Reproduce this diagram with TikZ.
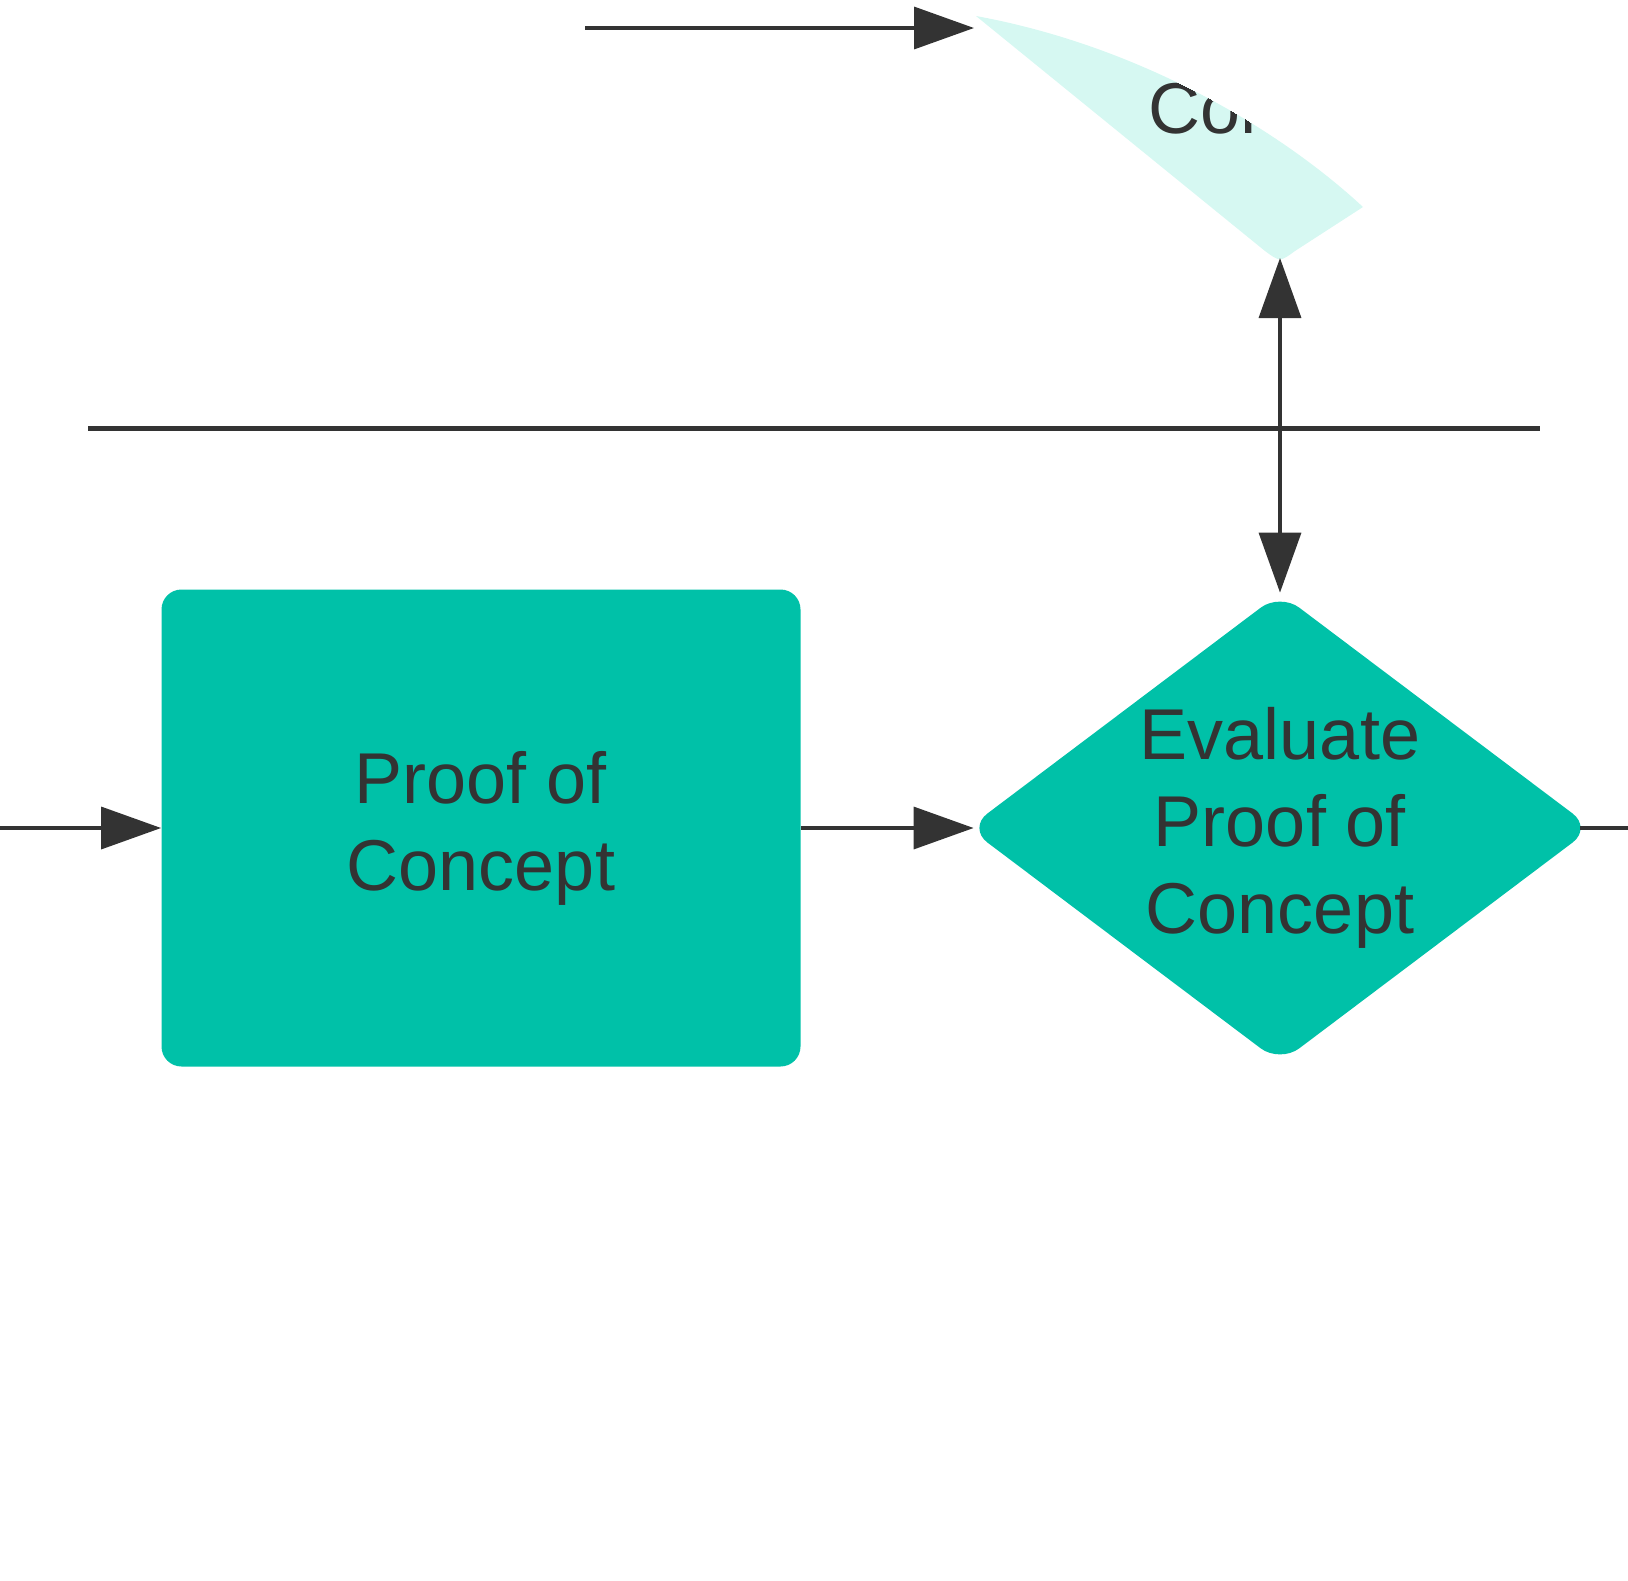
\documentclass[tikz,border=0pt]{standalone}
\usepackage{fontspec}
\setmainfont{Liberation Sans}
\usepackage{tikz}
\usetikzlibrary{positioning,calc}
\usetikzlibrary{arrows.meta,shapes.geometric}
\definecolor{FlowTeal}{RGB}{0,193,168}
\definecolor{FlowMint}{RGB}{214,248,242}
\definecolor{InkGray}{RGB}{51,51,51}
\tikzset{
  procbox/.style={rectangle,rounded corners=10pt,fill=FlowTeal,inner sep=0pt,
    minimum width=319.5pt,minimum height=238.5pt,align=center,text=InkGray,
    font=\fontsize{36}{43.5}\selectfont},
  decide/.style={diamond,aspect=1.33,rounded corners=12pt,fill=FlowTeal,inner sep=-6pt,
    minimum width=312pt,minimum height=235pt,align=center,text=InkGray,
    font=\fontsize{36}{43.5}\selectfont},
  flow/.style={draw=InkGray,line width=1.75pt,-{Triangle[length=30pt,width=21pt]}},
  twoway/.style={draw=InkGray,line width=1.75pt,{Triangle[length=30pt,width=21pt]}-{Triangle[length=30pt,width=21pt]}},
  plain/.style={draw=InkGray,line width=1.75pt},
}

\begin{document}
\begin{tikzpicture}[x=0.5pt,y=-0.5pt]
\useasboundingbox (0,0) rectangle (1628,1580);
\coordinate (topstart) at (585,28);
\coordinate (topend) at (974,28);
\coordinate (lanel) at (88,428);
\coordinate (laner) at (1540,428);
\coordinate (instart) at (0,828);
\coordinate (outend) at (1628,828);
\coordinate (concepttip) at (1280,258);
% clipped decision shape at the top
\fill[FlowMint] (976,16) .. controls (1140,46) and (1280,130) .. (1363,207)
  -- (1295,251) .. controls (1280,262) .. (1265,251) -- cycle;
\begin{scope}
\clip (976,16) .. controls (1140,46) and (1280,130) .. (1363,207)
  -- (1295,251) .. controls (1280,262) .. (1265,251) -- cycle;
\node[anchor=base west,inner sep=0pt,text=InkGray,font=\fontsize{36}{43.5}\selectfont] (conc) at (1148,133) {Con};
\end{scope}
\node[procbox] (poc) at (481,828) {Proof of\\Concept};
\node[decide] (evalpoc) at (1280,828) {Evaluate\\Proof of\\Concept};
\draw[flow] (topstart) -- (topend);
\draw[line width=2.5pt,draw=InkGray] (lanel) -- (laner);
\draw[flow] (instart) -- (poc.west);
\draw[flow,shorten >=-3pt] (poc.east) -- (evalpoc.west);
\draw[twoway] (concepttip) -- (evalpoc.north);
\draw[plain,shorten <=-6pt] (evalpoc.east) -- (outend);
\end{tikzpicture}
\end{document}
